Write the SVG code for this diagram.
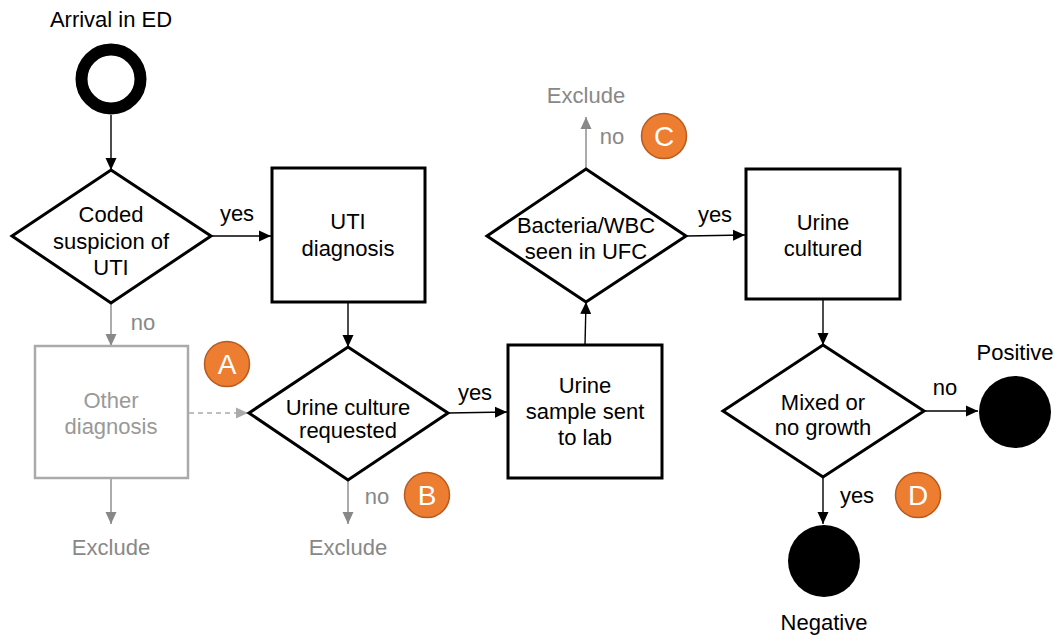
<svg xmlns="http://www.w3.org/2000/svg" width="1060" height="637" viewBox="0 0 1060 637">
<style>
text{font-family:"Liberation Sans",Arial,sans-serif;font-size:22px;text-anchor:middle;fill:#000}
.shape{fill:#fff;stroke:#000;stroke-width:3}
.gshape{fill:#fff;stroke:#aaa;stroke-width:2.5}
.g{fill:#888}
.gt{fill:#999}
.c{stroke:#000;stroke-width:1.4;fill:none;marker-end:url(#ab)}
.cg{stroke:#888;stroke-width:1.4;fill:none;marker-end:url(#ag)}
.cl{stroke:#aaa;stroke-width:1.4;fill:none;stroke-dasharray:5 4;marker-end:url(#al)}
.badge{fill:#ED7D31;stroke:#B85A1E;stroke-width:1.5}
.bt{fill:#fff;font-size:28px}
</style>
<defs>
<marker id="ab" markerUnits="userSpaceOnUse" markerWidth="12" markerHeight="12" viewBox="0 0 12 12" refX="12" refY="6" orient="auto"><path d="M0,0.5 L12,6 L0,11.5 Z" fill="#000"/></marker>
<marker id="ag" markerUnits="userSpaceOnUse" markerWidth="12" markerHeight="12" viewBox="0 0 12 12" refX="12" refY="6" orient="auto"><path d="M0,0.5 L12,6 L0,11.5 Z" fill="#888"/></marker>
<marker id="al" markerUnits="userSpaceOnUse" markerWidth="12" markerHeight="12" viewBox="0 0 12 12" refX="12" refY="6" orient="auto"><path d="M0,0.5 L12,6 L0,11.5 Z" fill="#aaa"/></marker>
</defs>
<rect width="1060" height="637" fill="#fff"/>

<g id="connectors">
<line class="c" x1="111" y1="115" x2="111" y2="170"/>
<line class="c" x1="211" y1="236" x2="271" y2="236"/>
<line class="cg" x1="111" y1="303" x2="111" y2="346"/>
<line class="c" x1="348" y1="302" x2="348" y2="347"/>
<line class="cl" x1="189" y1="413" x2="248" y2="413"/>
<line class="cg" x1="111" y1="479" x2="111" y2="524"/>
<line class="cg" x1="348" y1="480" x2="348" y2="524"/>
<line class="c" x1="448" y1="413" x2="507" y2="412"/>
<line class="c" x1="585" y1="345" x2="586" y2="302"/>
<line class="cg" x1="586" y1="169" x2="586" y2="117"/>
<line class="c" x1="687" y1="236" x2="745" y2="235"/>
<line class="c" x1="823" y1="300" x2="823" y2="345"/>
<line class="c" x1="924" y1="411" x2="978" y2="411"/>
<line class="c" x1="823" y1="477" x2="823" y2="524"/>
<text x="237" y="221">yes</text>
<text x="143" y="330" class="g">no</text>
<text x="377" y="504" class="g">no</text>
<text x="475" y="400">yes</text>
<text x="612" y="144" class="g">no</text>
<text x="715" y="222">yes</text>
<text x="945" y="395">no</text>
<text x="857" y="503">yes</text>
</g>

<g id="start">
<circle cx="111" cy="79" r="29.5" fill="#fff" stroke="#000" stroke-width="12"/>
<text x="111" y="27">Arrival in ED</text>
</g>

<g id="coded">
<polygon class="shape" points="111,170 211,236 111,303 12,236"/>
<text x="111" y="222">Coded</text>
<text x="111" y="249">suspicion of</text>
<text x="111" y="275">UTI</text>
</g>

<g id="uti">
<rect class="shape" x="272" y="168" width="153" height="134"/>
<text x="348" y="229">UTI</text>
<text x="348" y="256">diagnosis</text>
</g>

<g id="other">
<rect class="gshape" x="35" y="346" width="153" height="132"/>
<text x="111" y="408" class="gt">Other</text>
<text x="111" y="434" class="gt">diagnosis</text>
</g>

<g id="exclude1"><text x="111" y="555" class="g">Exclude</text></g>

<g id="culture-req">
<polygon class="shape" points="348,347 448,413 348,480 249,413"/>
<text x="348" y="415">Urine culture</text>
<text x="348" y="438">requested</text>
</g>

<g id="exclude2"><text x="348" y="555" class="g">Exclude</text></g>

<g id="sample">
<rect class="shape" x="508" y="345" width="154" height="133"/>
<text x="585" y="393">Urine</text>
<text x="585" y="419">sample sent</text>
<text x="585" y="445">to lab</text>
</g>

<g id="ufc">
<polygon class="shape" points="586,169 686,236 586,302 487,236"/>
<text x="586" y="233">Bacteria/WBC</text>
<text x="586" y="259">seen in UFC</text>
</g>

<g id="exclude3"><text x="586" y="103" class="g">Exclude</text></g>

<g id="cultured">
<rect class="shape" x="746" y="169" width="154" height="130"/>
<text x="823" y="230">Urine</text>
<text x="823" y="256">cultured</text>
</g>

<g id="growth">
<polygon class="shape" points="823,345 924,411 823,477 723,411"/>
<text x="823" y="410">Mixed or</text>
<text x="823" y="435">no growth</text>
</g>

<g id="positive">
<circle cx="1015" cy="412" r="36" fill="#000"/>
<text x="1015" y="360">Positive</text>
</g>

<g id="negative">
<circle cx="824" cy="561" r="36" fill="#000"/>
<text x="824" y="630">Negative</text>
</g>

<g id="badgeA"><circle class="badge" cx="227" cy="364" r="22.5"/><text class="bt" x="227" y="374">A</text></g>
<g id="badgeB"><circle class="badge" cx="427" cy="495" r="22.5"/><text class="bt" x="427" y="505">B</text></g>
<g id="badgeC"><circle class="badge" cx="664" cy="136" r="22.5"/><text class="bt" x="664" y="146">C</text></g>
<g id="badgeD"><circle class="badge" cx="918" cy="495" r="22.5"/><text class="bt" x="918" y="505">D</text></g>
</svg>
